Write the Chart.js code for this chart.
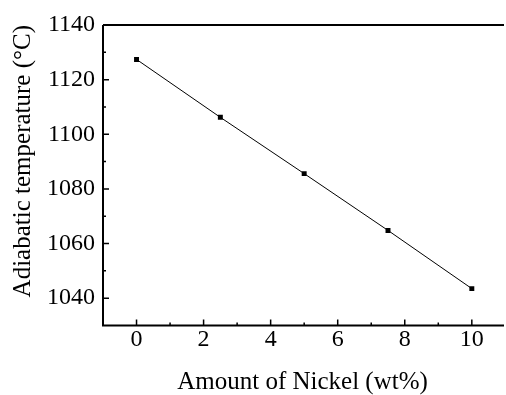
<!DOCTYPE html>
<html>
<head>
<meta charset="utf-8">
<script src="https://cdn.jsdelivr.net/npm/chart.js@4/dist/chart.umd.min.js"></script>
<style>
html,body{margin:0;padding:0;background:#fff;overflow:hidden;}
#wrap{width:506px;height:395px;}
</style>
</head>
<body>
<div id="wrap"><canvas id="c" width="506" height="395"></canvas></div>
<script>
const nickel = [0, 2.5, 5, 7.5, 10];
const adiabaticTemp = [1127.4, 1106.2, 1085.6, 1064.8, 1043.5];
const xTicks = [0, 2, 4, 6, 8, 10];
const yTicks = [1040, 1060, 1080, 1100, 1120, 1140];
const xMinorTicks = [1, 3, 5, 7, 9];
const yMinorTicks = [1050, 1070, 1090, 1110, 1130];

const FONT = "'Liberation Serif', 'Times New Roman', serif";

const framePlugin = {
  id: 'frame',
  afterDraw(chart) {
    const {ctx, chartArea: a, scales: {x, y}} = chart;
    ctx.save();
    ctx.strokeStyle = '#000';
    ctx.lineWidth = 2;
    ctx.beginPath();
    ctx.moveTo(a.left, a.top);
    ctx.lineTo(a.right + 2, a.top);
    ctx.moveTo(a.left, a.top);
    ctx.lineTo(a.left, a.bottom);
    ctx.lineTo(a.right + 2, a.bottom);
    ctx.stroke();
    ctx.lineWidth = 1.5;
    ctx.beginPath();
    xTicks.forEach(v => { const px = x.getPixelForValue(v); ctx.moveTo(px, a.bottom); ctx.lineTo(px, a.bottom - 6); });
    xMinorTicks.forEach(v => { const px = x.getPixelForValue(v); ctx.moveTo(px, a.bottom); ctx.lineTo(px, a.bottom - 3); });
    yTicks.forEach(v => { const py = y.getPixelForValue(v); ctx.moveTo(a.left, py); ctx.lineTo(a.left + 6, py); });
    yMinorTicks.forEach(v => { const py = y.getPixelForValue(v); ctx.moveTo(a.left, py); ctx.lineTo(a.left + 3, py); });
    ctx.stroke();
    ctx.restore();
  }
};

new Chart(document.getElementById('c'), {
  type: 'scatter',
  data: {
    datasets: [{
      data: nickel.map((v, i) => ({x: v, y: adiabaticTemp[i]})),
      showLine: true,
      borderColor: '#000',
      borderWidth: 1,
      backgroundColor: '#000',
      pointStyle: 'rect',
      pointRadius: 3.5,
      pointBorderWidth: 0,
      tension: 0
    }]
  },
  options: {
    responsive: false,
    animation: false,
    events: [],
    layout: {padding: {top: 25, right: 1, left: 0, bottom: 0}},
    plugins: {legend: {display: false}, tooltip: {enabled: false}},
    scales: {
      x: {
        type: 'linear',
        min: -1, max: 10.9,
        afterBuildTicks(s) { s.ticks = xTicks.map(v => ({value: v})); },
        afterFit(s) { s.height = 395 - 325.5; },
        grid: {display: false, drawTicks: false},
        border: {display: false},
        ticks: {color: '#000', font: {family: FONT, size: 24}, padding: 0, maxRotation: 0, callback: v => String(v)},
        title: {display: true, text: 'Amount of Nickel (wt%)', color: '#000', font: {family: FONT, size: 25}, padding: {top: 0, bottom: -2}}
      },
      y: {
        type: 'linear',
        min: 1030, max: 1140,
        afterBuildTicks(s) { s.ticks = yTicks.map(v => ({value: v})); },
        afterFit(s) { s.width = 103; },
        grid: {display: false, drawTicks: false},
        border: {display: false},
        ticks: {color: '#000', font: {family: FONT, size: 24}, padding: 8, callback: v => String(v)},
        title: {display: true, text: 'Adiabatic temperature (°C)', color: '#000', font: {family: FONT, size: 25}, align: 'end', padding: {top: 8, bottom: 0}}
      }
    }
  },
  plugins: [framePlugin]
});
</script>
</body>
</html>
